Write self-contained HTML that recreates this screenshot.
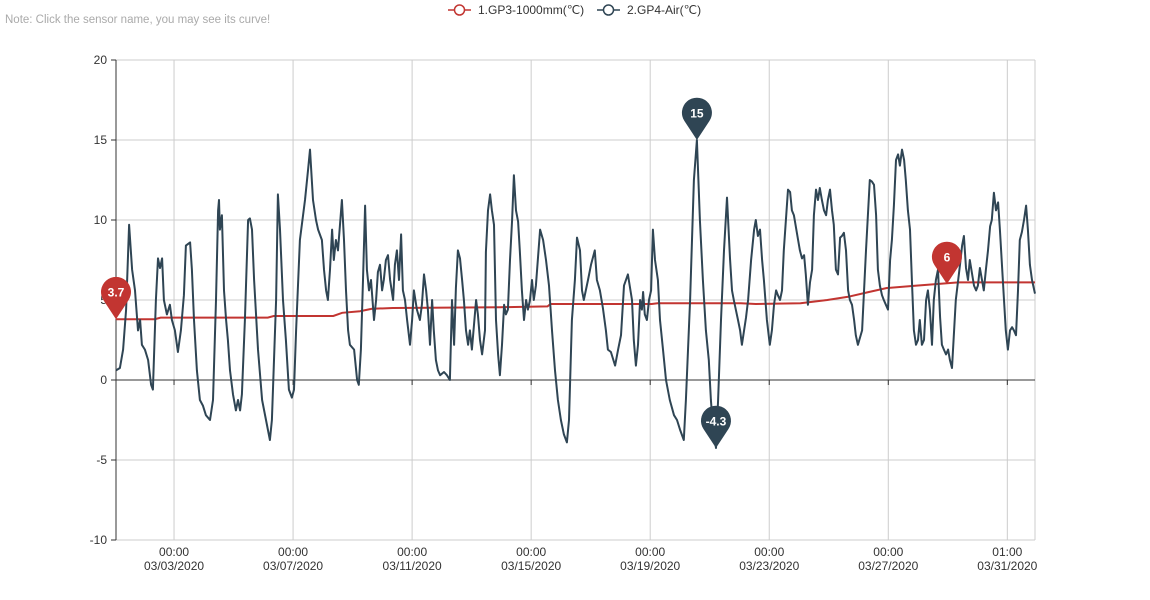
<!DOCTYPE html>
<html><head><meta charset="utf-8">
<style>
html,body{margin:0;padding:0;background:#fff;width:1150px;height:600px;overflow:hidden;font-family:"Liberation Sans",sans-serif;}
svg text{font-family:"Liberation Sans",sans-serif;}
</style></head>
<body>
<svg id="chart" width="1150" height="600" xmlns="http://www.w3.org/2000/svg">
<text x="5" y="23" font-size="11.5" fill="#aaa">Note: Click the sensor name, you may see its curve!</text>
<g>
<line x1="448" y1="10" x2="471" y2="10" stroke="#c23531" stroke-width="1.5"/>
<circle cx="459.5" cy="10" r="5" fill="#fff" stroke="#c23531" stroke-width="1.5"/>
<text x="478" y="14" font-size="12" fill="#333">1.GP3-1000mm(℃)</text>
</g>
<g>
<line x1="597" y1="10" x2="620" y2="10" stroke="#2f4554" stroke-width="1.5"/>
<circle cx="608.5" cy="10" r="5" fill="#fff" stroke="#2f4554" stroke-width="1.5"/>
<text x="627" y="14" font-size="12" fill="#333">2.GP4-Air(℃)</text>
</g>
<g id="grid"></g>
<g id="axes"></g>
<g id="series"></g>
<g id="markers"></g>
</svg>
<script>
const yTicks = [-10,-5,0,5,10,15,20];
const xTickDays = [1.95,5.95,9.95,13.95,17.95,21.95,25.95,29.95];
const xTickTimes = ["00:00","00:00","00:00","00:00","00:00","00:00","00:00","01:00"];
const xTickDates = ["03/03/2020","03/07/2020","03/11/2020","03/15/2020","03/19/2020","03/23/2020","03/27/2020","03/31/2020"];
const gp3Days = [0,1.3,1.5,5.1,5.3,7.3,7.6,8.2,8.6,9.3,12.9,14.5,14.6,18.0,18.2,21.0,21.5,23.0,23.9,24.6,25.3,25.9,26.9,27.6,28.3,30.88];
const gp3Vals = [3.8,3.8,3.9,3.9,4.0,4.0,4.2,4.3,4.45,4.5,4.55,4.6,4.75,4.75,4.8,4.8,4.75,4.8,5.0,5.2,5.5,5.75,5.9,6.0,6.1,6.1];
const gp4Days = [0,.13,.24,.34,.44,.54,.64,.74,.81,.87,.97,1.08,1.18,1.24,1.34,1.41,1.48,1.55,1.61,1.71,1.81,1.88,1.98,2.08,2.18,2.28,2.35,2.49,2.55,2.62,2.72,2.82,2.92,3.02,3.16,3.26,3.36,3.43,3.46,3.49,3.56,3.63,3.70,3.76,3.83,3.93,4.03,4.10,4.17,4.23,4.33,4.44,4.50,4.57,4.64,4.77,4.91,5.04,5.17,5.24,5.38,5.44,5.51,5.61,5.71,5.81,5.91,5.98,6.05,6.18,6.35,6.45,6.52,6.62,6.72,6.79,6.92,6.99,7.06,7.12,7.19,7.26,7.32,7.39,7.46,7.59,7.66,7.73,7.80,7.86,8.00,8.10,8.16,8.23,8.30,8.37,8.43,8.50,8.57,8.67,8.74,8.80,8.87,8.94,9.00,9.07,9.14,9.21,9.31,9.37,9.44,9.51,9.58,9.64,9.71,9.78,9.88,9.95,10.01,10.11,10.21,10.28,10.35,10.42,10.48,10.55,10.62,10.68,10.75,10.82,10.89,11.02,11.12,11.22,11.29,11.36,11.42,11.49,11.56,11.63,11.69,11.76,11.83,11.89,11.96,12.10,12.16,12.23,12.30,12.40,12.43,12.50,12.57,12.63,12.70,12.77,12.84,12.90,12.97,13.04,13.10,13.17,13.24,13.31,13.37,13.44,13.51,13.57,13.64,13.71,13.78,13.84,13.91,13.98,14.04,14.11,14.25,14.35,14.45,14.55,14.65,14.75,14.85,14.95,15.05,15.15,15.22,15.32,15.42,15.49,15.59,15.66,15.72,15.86,15.96,16.09,16.16,16.26,16.36,16.46,16.53,16.63,16.77,16.87,16.97,17.07,17.20,17.34,17.40,17.47,17.54,17.61,17.67,17.71,17.77,17.84,17.91,17.98,18.04,18.11,18.21,18.28,18.38,18.48,18.61,18.75,18.85,18.95,19.08,19.15,19.29,19.42,19.52,19.62,19.72,19.82,19.92,19.99,20.06,20.16,20.23,20.33,20.43,20.53,20.63,20.70,20.76,20.90,20.97,21.03,21.17,21.24,21.34,21.44,21.50,21.57,21.64,21.71,21.77,21.87,21.97,22.04,22.11,22.18,22.24,22.31,22.38,22.44,22.51,22.58,22.65,22.71,22.78,22.92,22.98,23.05,23.12,23.18,23.25,23.32,23.39,23.45,23.52,23.59,23.65,23.72,23.79,23.86,23.92,23.99,24.06,24.12,24.19,24.26,24.33,24.39,24.46,24.53,24.60,24.66,24.73,24.80,24.86,24.93,25.07,25.20,25.33,25.40,25.47,25.54,25.60,25.67,25.74,25.80,25.87,25.94,26.01,26.07,26.14,26.21,26.28,26.34,26.41,26.48,26.54,26.61,26.68,26.75,26.81,26.88,26.95,27.01,27.08,27.15,27.22,27.28,27.35,27.42,27.48,27.55,27.62,27.69,27.75,27.82,27.89,27.96,28.02,28.09,28.16,28.22,28.36,28.43,28.49,28.56,28.63,28.69,28.83,28.90,28.96,29.03,29.10,29.16,29.23,29.30,29.37,29.43,29.50,29.57,29.64,29.70,29.84,29.90,29.97,30.04,30.11,30.17,30.24,30.31,30.37,30.44,30.51,30.58,30.64,30.71,30.78,30.88];
const gp4Vals = [.6,.75,1.9,4.4,9.7,6.9,5.6,3.1,3.75,2.2,1.9,1.25,-.3,-.6,5,7.6,7,7.6,5,4.1,4.7,3.75,3.1,1.75,3.1,5.3,8.4,8.6,6.9,3.75,.6,-1.25,-1.6,-2.2,-2.5,-1.25,5,10.6,11.25,9.4,10.3,5.6,3.75,2.5,.6,-.9,-1.9,-1.25,-1.9,-.9,3.75,10,10.1,9.4,6.25,1.9,-1.25,-2.5,-3.75,-2.5,5,11.6,9.4,5,2.5,-.6,-1.1,-.6,3.1,8.75,11.25,13.1,14.4,11.25,10,9.4,8.75,6.9,5.6,5,6.9,9.4,7.5,8.75,8.1,11.25,8.75,5.6,3.1,2.2,1.9,0,-.3,1.9,6.25,10.9,6.9,5.6,6.25,3.75,5,6.75,7.2,5.6,6.25,7.5,7.8,6.25,5,7.2,8.1,6.25,9.1,5.6,5,3.75,2.2,3.75,5.6,4.4,3.75,4.7,6.6,5.6,4.4,2.2,5,3.1,1.25,.6,.3,.5,.3,0,5,2.2,5.75,8.1,7.6,6.25,5,3.1,2.2,3.1,1.9,5,4.1,2.5,1.6,3.1,8,10.6,11.6,10.6,9.7,3.75,1.6,.3,2.2,4.7,4.1,4.4,7.5,10,12.8,10.6,9.9,8.1,5.6,3.75,5,4.4,5,6.25,5,5.9,9.4,8.75,7.5,5.9,3.1,.6,-1.25,-2.5,-3.4,-3.9,-2.5,3.75,6.25,8.9,8.1,5.6,5,6.25,7.2,8.1,6.25,5.6,4.5,3.1,1.9,1.75,.9,1.9,2.8,5.9,6.6,5,2.5,.9,2.2,5,4.4,5.5,4.1,3.75,5,5.6,9.4,7.5,6.25,3.75,1.9,0,-1.25,-2.2,-2.5,-3.1,-3.75,-1.25,5,12.5,15,10,6.25,3.1,1.25,-1.25,-3,-4.25,-1.25,3.75,8.1,11.4,7.6,5.6,5,3.75,3.1,2.2,3.9,5,7.5,9.4,10,9,9.4,7.5,6.25,3.75,2.2,3.1,4.7,5.6,5.3,5,5.6,8.1,10,11.9,11.75,10.6,10.3,8.75,8.1,7.6,7.8,6.6,4.7,6.1,6.9,10.3,11.9,11.25,12,11.25,10.6,10.3,11.25,11.9,10.6,9.7,6.9,6.6,8.9,9,9.2,8.1,5.6,5,4.7,3.75,2.8,2.2,3.1,8.1,12.5,12.4,12.2,10.3,6.9,5.9,5.3,5,4.7,4.4,7.5,8.75,10.9,13.75,14.1,13.4,14.4,13.75,12.5,10.6,9.4,5.9,3.1,2.2,2.5,3.75,2.2,2.5,5,5.6,4.4,2.2,5,6.25,6.9,3.9,2.2,1.9,1.6,1.9,1.25,.75,3.1,5,7.2,8.4,9,7,6.25,7.5,5.9,5.6,5.9,7,6.25,5.6,6.9,8.1,9.6,10,11.7,10.6,11.1,9.4,5,3.1,1.9,3.1,3.3,3.1,2.8,5.6,8.75,9.25,10,10.9,9.4,7.2,6.25,5.4];

const NS="http://www.w3.org/2000/svg";
const L=116,R=1035,T=60,B=540;
const dMin=0,dMax=30.88,vMin=-10,vMax=20;
function xS(d){return L+(d-dMin)/(dMax-dMin)*(R-L);}
function yS(v){return B-(v-vMin)/(vMax-vMin)*(B-T);}
function mk(tag,attrs,parent){const e=document.createElementNS(NS,tag);for(const k in attrs)e.setAttribute(k,attrs[k]);parent.appendChild(e);return e;}
const grid=document.getElementById('grid'),axes=document.getElementById('axes'),series=document.getElementById('series'),markers=document.getElementById('markers');

yTicks.forEach(v=>{
  const y=yS(v);
  if(v!==0){const g=mk('line',{x1:L,x2:R,y1:y,y2:y,stroke:'#ccc','stroke-width':1},grid);
  
  }
  const tk=mk('line',{x1:L-5,x2:L,y1:y,y2:y,stroke:'#333'},axes);
  
  
  const t=mk('text',{x:L-9,y:y+4,'font-size':12,fill:'#333','text-anchor':'end'},axes);
  t.textContent=v;
  
  
});
xTickDays.forEach((d,i)=>{
  const x=xS(d);
  const g=mk('line',{x1:x,x2:x,y1:T,y2:B,stroke:'#ccc'},grid);
  
  
  const tk=mk('line',{x1:x,x2:x,y1:yS(0),y2:yS(0)+5,stroke:'#333'},axes);
  
  
  const t=mk('text',{x:x,y:556,'font-size':12,fill:'#333','text-anchor':'middle'},axes);
  t.textContent=xTickTimes[i];
  
  
  const t2=mk('text',{x:x,y:570,'font-size':12,fill:'#333','text-anchor':'middle'},axes);
  t2.textContent=xTickDates[i];
  
  
});
const rg=mk('line',{x1:R,x2:R,y1:T,y2:B,stroke:'#ccc'},grid);


const ya=mk('line',{x1:L,x2:L,y1:T,y2:B,stroke:'#333'},axes);


const xa=mk('line',{x1:L,x2:R,y1:yS(0),y2:yS(0),stroke:'#333'},axes);



let p='';
gp3Days.forEach((d,i)=>{p+=(i?' L':'M')+xS(d).toFixed(1)+','+yS(gp3Vals[i]).toFixed(1);});
const l1=mk('path',{d:p,fill:'none',stroke:'#c23531','stroke-width':2},series);


let p2='';
gp4Days.forEach((d,i)=>{p2+=(i?' L':'M')+xS(d).toFixed(1)+','+yS(gp4Vals[i]).toFixed(1);});
const l2=mk('path',{d:p2,fill:'none',stroke:'#2f4554','stroke-width':2,'stroke-linejoin':'round'},series);



function pin(d,v,label,color,name){
  const x=xS(d),y=yS(v);
  const g=mk('g',{},markers);
  
  
  const cy=y-27;
  mk('path',{d:`M${x-12.5},${cy+8} A15,15 0 1 1 ${x+12.5},${cy+8} L${x},${y} Z`,fill:color},g);
  const t=mk('text',{x:x,y:cy+4.5,'font-size':12,'font-weight':'bold',fill:'#fff','text-anchor':'middle'},g);
  t.textContent=label;
}
let iMax=0,iMin=0;
gp4Vals.forEach((v,i)=>{if(v>gp4Vals[iMax])iMax=i;if(v<gp4Vals[iMin])iMin=i;});
pin(gp3Days[0],gp3Vals[0],'3.7','#c23531','gp3-min-marker');
pin(27.92,6.0,'6','#c23531','gp3-max-marker');
pin(gp4Days[iMax],gp4Vals[iMax],'15','#2f4554','gp4-max-marker');
pin(gp4Days[iMin],gp4Vals[iMin],'-4.3','#2f4554','gp4-min-marker');
</script>
</body></html>
